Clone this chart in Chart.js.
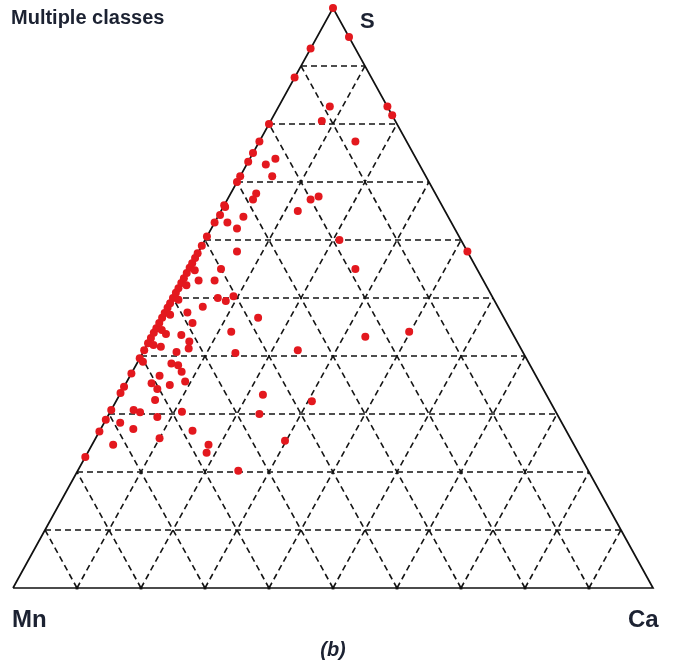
<!DOCTYPE html>
<html>
<head>
<meta charset="utf-8">
<script src="https://cdn.jsdelivr.net/npm/chart.js@4.4.1/dist/chart.umd.min.js"></script>
<style>
  html, body { margin: 0; padding: 0; background: #ffffff; }
  #wrap { width: 675px; height: 670px; }
</style>
</head>
<body>
<div id="wrap"><canvas id="c" width="675" height="670"></canvas></div>
<script>
// Ternary composition of each sample, in percent (Mn = 100 - S - Ca)
const sPct = [
  100, 95, 93, 88, 83, 83, 81.5, 80.5, 80, 77, 77, 75, 74, 73.5, 73, 71, 71, 70,
  68, 67, 66, 65.7, 67, 67.5, 65, 64, 63, 64.3, 63, 62, 60, 60.6, 59, 57.7, 58,
  55, 58, 55, 53, 53, 50, 49.5, 50.3, 48.5, 47.5, 45.7, 46.6, 44.2, 43.8, 43.6,
  42.5, 41.3, 41.6, 40.7, 40.5, 41, 43.3, 44.2, 38.7, 38.4, 37.3, 35.6, 36.6,
  35.3, 34.3, 35, 32.4, 33.3, 32.2, 30.7, 30.3, 29.5, 30.4, 30, 28.5, 27.4, 27.1,
  25.8, 24.7, 24.7, 23.3, 25.4, 20.2,
  22.6, 27, 29, 30.7, 33.6, 34.7, 37, 39.6, 41, 42.2, 43.1, 44, 44.8, 45.7, 46.6,
  47.4, 48.3, 49.1, 50, 50.9, 51.7, 52.6, 53.4, 54.3, 55.2, 56, 56.9,
  54.8, 52.2, 49.7, 47.1, 44.5, 41.9, 39
];
const caPct = [
  0, 5, 0, 0, 8, 17, 18.5, 8, 0, 15, 0, 0, 4, 0, 3, 5, 0, 0,
  4, 4, 0, 0.3, 13, 14, 12, 4, 0, 0.2, 2, 4, 21, 0, 0, 0, 6,
  26, 42, 5, 2.5, 5, 7, 8.5, 9.3, 5.4, 3.5, 5.2, 15, 12, 2, 4.5,
  6.3, 6.8, 2.3, 5.2, 14.5, 24, 33.4, 39.8, 5.4, 6.6, 7.7, 9.1, 4.6,
  4, 5.4, 7, 6, 22.4, 30.6, 3.5, 4.7, 7.8, 11.2, 23.5, 2.5, 5.1, 14.5,
  10, 3.3, 18.2, 18.6, 29.8, 25.1,
  0, 0, 0, 0, 0, 0, 0, 0, 0, 0, 0, 0, 0, 0, 0,
  0, 0, 0, 0, 0, 0, 0, 0, 0, 0, 0, 0,
  1, 1, 1, 1, 1, 1, 0.8
];
// Grid levels, percent
const gridLevels = [10, 20, 30, 40, 50, 60, 70, 80, 90];
const vertexLabels = { top: 'S', left: 'Mn', right: 'Ca' };
const titleText = 'Multiple classes';
const panelTag = '(b)';

// Ternary (S, Ca) in percent -> plane coordinates; Mn corner at (0,0), Ca at (1,0), S at (0.5,1)
function tern(s, ca) {
  return { x: ca / 100 + s / 200, y: s / 100 };
}

const samplePoints = sPct.map((s, i) => tern(s, caPct[i]));

const lineStyle = {
  showLine: true, pointRadius: 0, borderColor: '#151515',
  borderWidth: 1.6, borderDash: [6, 4], fill: false, clip: false, order: 3
};

const gridSets = [];
gridLevels.forEach(k => {
  // constant S
  gridSets.push(Object.assign({ data: [tern(k, 0), tern(k, 100 - k)] }, lineStyle));
  // constant Ca
  gridSets.push(Object.assign({ data: [tern(0, k), tern(100 - k, k)] }, lineStyle));
  // constant Mn
  gridSets.push(Object.assign({ data: [tern(0, 100 - k), tern(100 - k, 0)] }, lineStyle));
});

const outline = {
  data: [tern(0, 0), tern(0, 100), tern(100, 0), tern(0, 0)],
  showLine: true, pointRadius: 0, borderColor: '#111111', borderWidth: 1.7,
  fill: false, clip: false, order: 2
};

const baseTicks = {
  data: gridLevels.map(k => tern(0, k)),
  pointStyle: 'rect', pointRadius: 2, backgroundColor: '#111111',
  borderWidth: 0, clip: false, order: 1
};

const samples = {
  data: samplePoints,
  pointRadius: 4, pointHoverRadius: 4,
  backgroundColor: '#e3181e', borderColor: '#e3181e', borderWidth: 0,
  clip: false, order: 0
};

const labelPlugin = {
  id: 'ternLabels',
  afterDraw(chart) {
    const ctx = chart.ctx;
    ctx.save();
    ctx.fillStyle = '#1c2232';
    ctx.textBaseline = 'alphabetic';
    ctx.textAlign = 'left';
    ctx.font = 'bold 20px "Liberation Sans", Arial, sans-serif';
    ctx.fillText(titleText, 11, 24);
    ctx.font = 'bold 22px "Liberation Sans", Arial, sans-serif';
    ctx.fillText(vertexLabels.top, 360, 28);
    ctx.font = 'bold 24px "Liberation Sans", Arial, sans-serif';
    ctx.fillText(vertexLabels.left, 12, 627);
    ctx.fillText(vertexLabels.right, 628, 627);
    ctx.textAlign = 'center';
    ctx.font = 'italic bold 20px "Liberation Sans", Arial, sans-serif';
    ctx.fillText(panelTag, 333, 656);
    ctx.restore();
  }
};

new Chart(document.getElementById('c'), {
  type: 'scatter',
  data: { datasets: [...gridSets, outline, baseTicks, samples] },
  options: {
    responsive: false,
    animation: false,
    devicePixelRatio: 1,
    layout: { padding: { left: 13, right: 22, top: 8, bottom: 82 } },
    scales: {
      x: { type: 'linear', min: 0, max: 1, display: false },
      y: { type: 'linear', min: 0, max: 1, display: false }
    },
    plugins: { legend: { display: false }, tooltip: { enabled: false } },
    events: []
  },
  plugins: [labelPlugin]
});
</script>
</body>
</html>
